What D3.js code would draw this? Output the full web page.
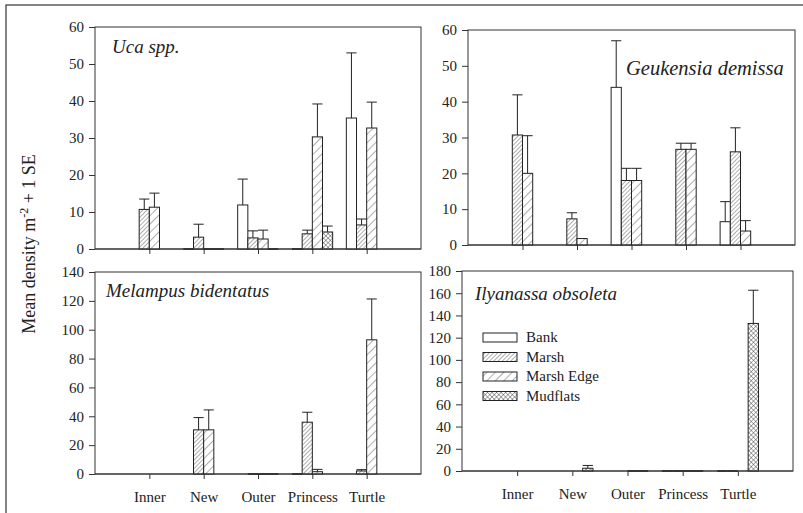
<!DOCTYPE html>
<html>
<head>
<meta charset="utf-8">
<script src="https://cdn.jsdelivr.net/npm/d3@7"></script>
<style>
  body { margin: 0; background: #fff; }
  svg text { font-family: "Liberation Serif", "Times New Roman", serif; fill: #222; }
  .tick text { font-size: 15px; }
  .tick line { stroke: #333; }
  .title { font-style: italic; font-size: 19px; }
</style>
</head>
<body>
<div id="chart"></div>
<script>
// categories
var sites = ["Inner", "New", "Outer", "Princess", "Turtle"];
var habitats = ["Bank", "Marsh", "Marsh Edge", "Mudflats"];

// mean density per habitat (rows: Bank, Marsh, Marsh Edge, Mudflats), per site
var ucaMean = [
  [null, 0, 11.9, 0, 35.4],
  [10.7, 3.2, 3.0, 4.1, 6.5],
  [11.3, 0, 2.7, 30.3, 32.7],
  [null, 0, 0, 4.6, null]
];
var ucaSE = [
  [null, null, 7.0, null, 17.6],
  [2.8, 3.5, 1.9, 1.0, 1.6],
  [3.8, null, 2.4, 8.9, 7.0],
  [null, null, null, 1.6, null]
];

var geukMean = [
  [null, null, 44.0, null, 6.5],
  [30.7, 7.3, 18.0, 26.7, 26.0],
  [20.0, 1.8, 18.0, 26.7, 3.9],
  [null, null, null, null, null]
];
var geukSE = [
  [null, null, 13.0, null, 5.6],
  [11.2, 1.7, 3.4, 1.7, 6.7],
  [10.5, null, 3.4, 1.7, 2.9],
  [null, null, null, null, null]
];

var melMean = [
  [null, null, null, 0, null],
  [null, 30.6, 0, 35.9, 2.1],
  [null, 30.6, 0, 1.6, 93.0],
  [null, null, 0, null, null]
];
var melSE = [
  [null, null, null, null, null],
  [null, 8.5, null, 6.9, 0.9],
  [null, 13.8, null, 1.6, 28.3],
  [null, null, null, null, null]
];

var ilyMean = [
  [null, null, null, 0, 0],
  [null, null, null, 0, 0],
  [null, null, 0, 0, null],
  [null, 2.5, 0, 0, 132.8]
];
var ilySE = [
  [null, null, null, null, null],
  [null, null, null, null, null],
  [null, null, null, null, null],
  [null, 2.5, null, null, 29.9]
];

var yTicksA = [0, 10, 20, 30, 40, 50, 60];
var yTicksC = [0, 20, 40, 60, 80, 100, 120, 140];
var yTicksD = [0, 20, 40, 60, 80, 100, 120, 140, 160, 180];

var svg = d3.select("#chart")
  .append("svg")
  .attr("width", 803)
  .attr("height", 513);

// hatching patterns
var defs = svg.append("defs");
function hatch(id, gap, angles) {
  var p = defs.append("pattern")
    .attr("id", id)
    .attr("patternUnits", "userSpaceOnUse")
    .attr("width", gap)
    .attr("height", gap)
    .attr("patternTransform", "rotate(45)");
  p.append("rect").attr("width", gap).attr("height", gap).attr("fill", "#fff");
  p.append("line").attr("x1", 0).attr("y1", 0).attr("x2", 0).attr("y2", gap)
    .attr("stroke", "#333").attr("stroke-width", 0.8);
  if (angles > 1) {
    p.append("line").attr("x1", 0).attr("y1", 0).attr("x2", gap).attr("y2", 0)
      .attr("stroke", "#333").attr("stroke-width", 0.8);
  }
}
hatch("marsh", 3, 1);
hatch("edge", 6, 1);
hatch("mud", 3.2, 2);
var fills = ["#fff", "url(#marsh)", "url(#edge)", "url(#mud)"];

// outer frame
svg.append("rect")
  .attr("x", 6).attr("y", 5).attr("width", 830).attr("height", 530)
  .attr("fill", "none").attr("stroke", "#333").attr("stroke-width", 1.2);

// y axis title
svg.append("text")
  .attr("transform", "translate(35,244) rotate(-90)")
  .attr("text-anchor", "middle")
  .style("font-size", "18px")
  .html('Mean density m<tspan dy="-7" font-size="12">-2</tspan><tspan dy="7"> + 1 SE</tspan>');

var panels = [
  { title: "Uca spp.", tx: 112, ty: 53, size: 19, mean: ucaMean, se: ucaSE, ymax: 60, ticks: yTicksA,
    left: 95, top: 27, right: 421, bottom: 249, labels: false },
  { title: "Geukensia demissa", tx: 626, ty: 75, size: 20.5, mean: geukMean, se: geukSE, ymax: 60, ticks: yTicksA,
    left: 468, top: 30, right: 795, bottom: 245, labels: false },
  { title: "Melampus bidentatus", tx: 106, ty: 297, size: 19, mean: melMean, se: melSE, ymax: 140, ticks: yTicksC,
    left: 95, top: 272, right: 421, bottom: 474, labels: true },
  { title: "Ilyanassa obsoleta", tx: 475, ty: 300, size: 19, mean: ilyMean, se: ilySE, ymax: 180, ticks: yTicksD,
    left: 462, top: 271, right: 793, bottom: 471, labels: true, legend: true }
];

var barW = 0.187;

panels.forEach(function(p) {
  var x = d3.scaleLinear().domain([0, 6]).range([p.left, p.right]);
  var y = d3.scaleLinear().domain([0, p.ymax]).range([p.bottom, p.top]);
  var g = svg.append("g");

  g.append("rect")
    .attr("x", p.left).attr("y", p.top)
    .attr("width", p.right - p.left).attr("height", p.bottom - p.top)
    .attr("fill", "none").attr("stroke", "#333").attr("stroke-width", 1);

  g.append("g")
    .attr("transform", "translate(" + p.left + ",0)")
    .call(d3.axisLeft(y).tickValues(p.ticks).tickSize(6).tickSizeOuter(0).tickPadding(5))
    .call(function(a) { a.select(".domain").remove(); });

  g.append("g")
    .attr("transform", "translate(0," + p.bottom + ")")
    .call(d3.axisBottom(x).tickValues([1, 2, 3, 4, 5]).tickSize(5).tickSizeOuter(0).tickPadding(12)
      .tickFormat(function(d) { return p.labels ? sites[d - 1] : ""; }))
    .call(function(a) { a.select(".domain").remove(); });

  g.append("text")
    .attr("class", "title")
    .attr("x", p.tx).attr("y", p.ty)
    .style("font-size", p.size + "px")
    .text(p.title);

  // bars
  p.mean.forEach(function(row, h) {
    row.forEach(function(v, i) {
      if (v === null) return;
      var x0 = x(i + 1 + (h - 2) * barW);
      var x1 = x(i + 1 + (h - 1) * barW);
      if (v === 0) {
        g.append("line")
          .attr("x1", x0).attr("x2", x1)
          .attr("y1", y(0)).attr("y2", y(0))
          .attr("stroke", "#222").attr("stroke-width", 1.6);
        return;
      }
      g.append("rect")
        .attr("x", x0).attr("y", y(v))
        .attr("width", x1 - x0).attr("height", y(0) - y(v))
        .attr("fill", fills[h])
        .attr("stroke", "#222").attr("stroke-width", 1);
      var e = p.se[h][i];
      if (e) {
        var cx = (x0 + x1) / 2;
        g.append("line")
          .attr("x1", cx).attr("x2", cx)
          .attr("y1", y(v)).attr("y2", y(v + e))
          .attr("stroke", "#222").attr("stroke-width", 1);
        g.append("line")
          .attr("x1", x0).attr("x2", x1)
          .attr("y1", y(v + e)).attr("y2", y(v + e))
          .attr("stroke", "#222").attr("stroke-width", 1);
      }
    });
  });

  // baseline
  g.append("line")
    .attr("x1", p.left).attr("x2", p.right)
    .attr("y1", y(0)).attr("y2", y(0))
    .attr("stroke", "#333").attr("stroke-width", 1);

  if (p.legend) {
    var lg = g.append("g").attr("transform", "translate(483,333)");
    habitats.forEach(function(name, h) {
      lg.append("rect")
        .attr("x", 0).attr("y", h * 19.5)
        .attr("width", 34).attr("height", 9)
        .attr("fill", fills[h]).attr("stroke", "#222").attr("stroke-width", 1);
      lg.append("text")
        .attr("x", 43).attr("y", h * 19.5 + 9)
        .style("font-size", "15px")
        .text(name);
    });
  }
});
</script>
</body>
</html>
